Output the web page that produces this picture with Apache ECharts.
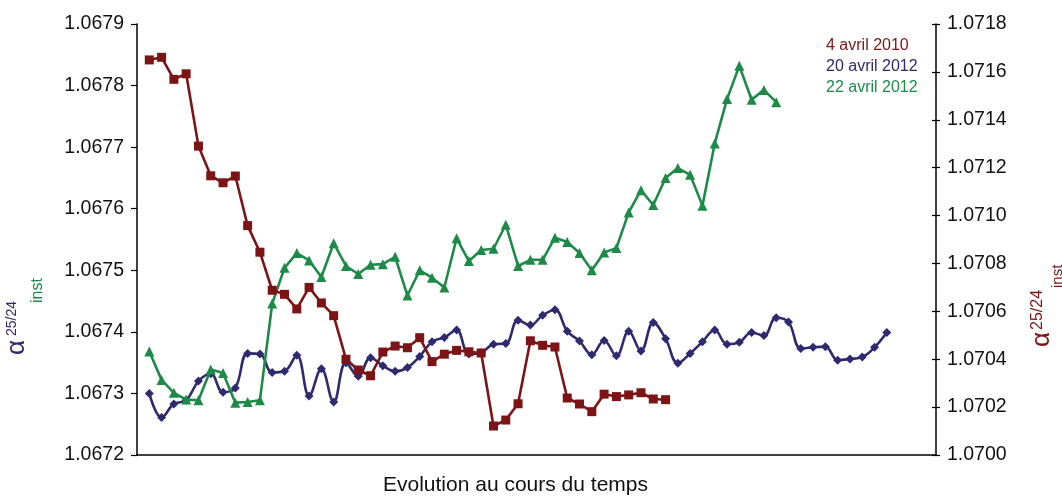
<!DOCTYPE html>
<html>
<head>
<meta charset="utf-8">
<script src="https://cdn.jsdelivr.net/npm/echarts@6/dist/echarts.min.js"></script>
<style>
  html, body { margin: 0; padding: 0; background: #ffffff; }
  #chart { width: 1062px; height: 497px; }
</style>
</head>
<body>
<div id="chart"></div>
<script>
// Series names (legend order)
const seriesNames = ['4 avril 2010', '20 avril 2012', '22 avril 2012'];

// 4 avril 2010 — right axis
const avril2010 = [
  1.071650, 1.071661, 1.071569, 1.071592, 1.071290, 1.071166, 1.071137, 1.071165,
  1.070958, 1.070847, 1.070688, 1.070671, 1.070610, 1.070700, 1.070635, 1.070582,
  1.070400, 1.070355, 1.070331, 1.070430, 1.070455, 1.070448, 1.070490, 1.070390,
  1.070421, 1.070437, 1.070431, 1.070426, 1.070121, 1.070146, 1.070214, 1.070477,
  1.070458, 1.070451, 1.070238, 1.070213, 1.070181, 1.070254, 1.070244, 1.070251,
  1.070260, 1.070234, 1.070231
];

// 20 avril 2012 — left axis
const avril2012a = [
  1.067300, 1.067261, 1.067283, 1.067289, 1.067320, 1.067332, 1.067302, 1.067309,
  1.067365, 1.067364, 1.067334, 1.067336, 1.067362, 1.067296, 1.067340, 1.067286,
  1.067350, 1.067328, 1.067358, 1.067345, 1.067336, 1.067342, 1.067360, 1.067384,
  1.067391, 1.067403, 1.067364, 1.067366, 1.067380, 1.067381, 1.067419, 1.067411,
  1.067427, 1.067436, 1.067401, 1.067385, 1.067363, 1.067386, 1.067361, 1.067401,
  1.067369, 1.067415, 1.067389, 1.067349, 1.067365, 1.067384, 1.067403, 1.067380,
  1.067383, 1.067399, 1.067394, 1.067423, 1.067416, 1.067373, 1.067375, 1.067376,
  1.067354, 1.067356, 1.067359, 1.067375, 1.067399
];

// 22 avril 2012 — left axis
const avril2012b = [
  1.067368, 1.067322, 1.067301, 1.067290, 1.067289, 1.067339, 1.067333, 1.067285,
  1.067286, 1.067289, 1.067446, 1.067504, 1.067528, 1.067516, 1.067489, 1.067544,
  1.067507, 1.067494, 1.067509, 1.067510, 1.067522, 1.067459, 1.067500, 1.067488,
  1.067472, 1.067552, 1.067515, 1.067533, 1.067535, 1.067574, 1.067507, 1.067517,
  1.067517, 1.067553, 1.067546, 1.067528, 1.067500, 1.067529, 1.067536, 1.067594,
  1.067630, 1.067606, 1.067650, 1.067666, 1.067655, 1.067605, 1.067706, 1.067778,
  1.067832, 1.067777, 1.067793, 1.067773
];

// Axis ranges
const leftAxisRange = { min: 1.0672, max: 1.0679, step: 0.0001 };
const rightAxisRange = { min: 1.0700, max: 1.0718, step: 0.0002 };
const timeSpan = { min: 0, max: 65 };

const xTitle = 'Evolution au cours du temps';

const BLUE = '#2f2a70';
const RED = '#7c1416';
const GREEN = '#1d8b47';
const FONT = '"Liberation Sans", Arial, Helvetica, sans-serif';

// measurement index -> position along the time axis (1-based)
const toPoints = arr => arr.map((v, i) => [i + 1, v]);

const chart = echarts.init(document.getElementById('chart'), null, { renderer: 'canvas' });

const axisLineStyle = { show: true, lineStyle: { color: '#000', width: 1.5 } };
const tickLabel = { color: '#111', fontSize: 19.5, fontFamily: FONT };

// vertical "α^25/24_inst" axis title, read bottom-to-top
function axisTitle(px, py, color, subColor, p) {
  return {
    type: 'group',
    x: px, y: py,
    rotation: Math.PI / 2,
    silent: true,
    children: [
      { type: 'text', x: p.a[0], y: p.a[1],
        style: { text: 'α', fill: color, font: '26px ' + FONT, verticalAlign: 'middle', align: 'left' } },
      { type: 'text', x: p.sup[0], y: p.sup[1],
        style: { text: '25/24', fill: color, font: p.supSize + 'px ' + FONT, verticalAlign: 'middle', align: 'left' } },
      { type: 'text', x: p.sub[0], y: p.sub[1],
        style: { text: 'inst', fill: subColor, font: p.subSize + 'px ' + FONT, verticalAlign: 'middle', align: 'left' } }
    ]
  };
}

const option = {
  backgroundColor: '#ffffff',
  animation: false,
  grid: { left: 137, right: 126, top: 24, bottom: 42, containLabel: false },
  legend: {
    orient: 'vertical',
    left: 816,
    top: 30,
    icon: 'none',
    itemWidth: 0,
    itemHeight: 14,
    itemGap: 0,
    selectedMode: false,
    textStyle: { fontSize: 16, fontFamily: FONT, lineHeight: 21 },
    data: [
      { name: seriesNames[0], textStyle: { color: RED } },
      { name: seriesNames[1], textStyle: { color: BLUE } },
      { name: seriesNames[2], textStyle: { color: GREEN } }
    ]
  },
  xAxis: {
    type: 'value',
    min: timeSpan.min,
    max: timeSpan.max,
    axisLine: axisLineStyle,
    axisTick: { show: false },
    axisLabel: { show: false },
    splitLine: { show: false }
  },
  yAxis: [
    {
      type: 'value',
      position: 'left',
      min: leftAxisRange.min,
      max: leftAxisRange.max,
      interval: leftAxisRange.step,
      axisLine: axisLineStyle,
      axisTick: { show: true, length: 6, lineStyle: { color: '#000', width: 1.2 } },
      axisLabel: Object.assign({ margin: 13, formatter: v => v.toFixed(4) }, tickLabel),
      splitLine: { show: false }
    },
    {
      type: 'value',
      position: 'right',
      min: rightAxisRange.min,
      max: rightAxisRange.max,
      interval: rightAxisRange.step,
      axisLine: axisLineStyle,
      axisTick: { show: true, length: 4, lineStyle: { color: '#000', width: 1.2 } },
      axisLabel: Object.assign({ margin: 11, formatter: v => v.toFixed(4) }, tickLabel),
      splitLine: { show: false }
    },
    {
      // inner half of the crossing ticks on the right axis
      type: 'value',
      position: 'right',
      min: rightAxisRange.min,
      max: rightAxisRange.max,
      interval: rightAxisRange.step,
      axisLine: { show: false },
      axisTick: { show: true, inside: true, length: 4, lineStyle: { color: '#000', width: 1.2 } },
      axisLabel: { show: false },
      splitLine: { show: false }
    }
  ],
  series: [
    {
      name: seriesNames[1],
      type: 'line',
      yAxisIndex: 0,
      data: toPoints(avril2012a),
      smooth: 0.4,
      symbol: 'diamond',
      symbolSize: 9,
      lineStyle: { color: BLUE, width: 2.6 },
      itemStyle: { color: BLUE },
      z: 2
    },
    {
      name: seriesNames[2],
      type: 'line',
      yAxisIndex: 0,
      data: toPoints(avril2012b),
      symbol: 'triangle',
      symbolSize: 10,
      lineStyle: { color: GREEN, width: 2.6 },
      itemStyle: { color: GREEN },
      z: 3
    },
    {
      name: seriesNames[0],
      type: 'line',
      yAxisIndex: 1,
      data: toPoints(avril2010),
      symbol: 'rect',
      symbolSize: 9,
      lineStyle: { color: RED, width: 2.6 },
      itemStyle: { color: RED },
      z: 4
    }
  ],
  graphic: [
    {
      type: 'text',
      left: 383,
      top: 475,
      style: { text: xTitle, fill: '#111', font: '21px ' + FONT }
    },
    axisTitle(0, 355, BLUE, GREEN, { a: [0, 17], sup: [19, 12], supSize: 14, sub: [52, 38], subSize: 16 }),
    axisTitle(1028, 347, RED, RED, { a: [0, 14], sup: [17, 10], supSize: 16, sub: [59, 30], subSize: 15 })
  ]
};

chart.setOption(option);
</script>
</body>
</html>
